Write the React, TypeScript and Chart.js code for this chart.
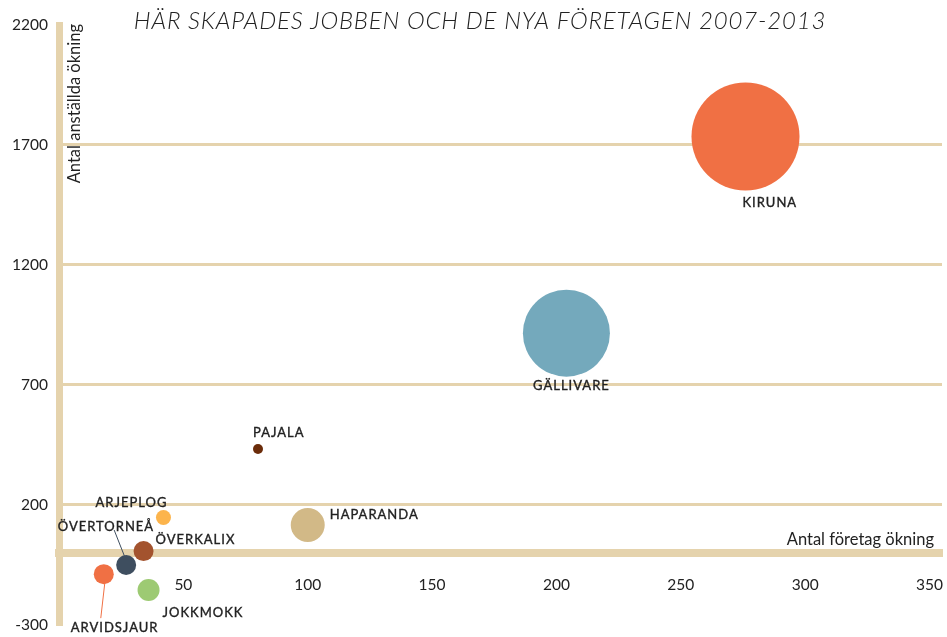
import React, { useEffect, useRef } from "react";
import { Chart, registerables } from "chart.js";

Chart.register(...registerables);

// ---- Data ----
const municipalities = [
  "KIRUNA",
  "GÄLLIVARE",
  "PAJALA",
  "HAPARANDA",
  "ARJEPLOG",
  "ÖVERKALIX",
  "ÖVERTORNEÅ",
  "ARVIDSJAUR",
  "JOKKMOKK",
];
const companyIncrease = [276, 204, 80, 100, 42, 34, 27, 18, 36];
const employeeIncrease = [1735, 915, 432, 115, 146, 6, -52, -90, -156];
const bubbleRadius = [54, 43.5, 5, 17, 7.5, 10, 10, 10, 11];

const xTickValues = [50, 100, 150, 200, 250, 300, 350];
const yTickValues = [-300, 200, 700, 1200, 1700, 2200];
const gridValues = [200, 700, 1200, 1700];

const chartTitle = "HÄR SKAPADES JOBBEN OCH DE NYA FÖRETAGEN 2007-2013";
const yAxisTitle = "Antal anställda ökning";
const xAxisTitle = "Antal företag ökning";

// ---- Styles ----
const bubbleColors = [
  "#f07044",
  "#74a9bc",
  "#6b2c0a",
  "#d2b987",
  "#fcb44c",
  "#a3532e",
  "#3e4e5f",
  "#f07044",
  "#9dca73",
];
const AXIS_COLOR = "#e5d3ad";
const TEXT_COLOR = "#222222";
const FONT = "Lato, 'Open Sans', sans-serif";

// label placement relative to bubble centre (pixels)
const labelPlacement = [
  { dx: -3, dy: 66, align: "left" },
  { dx: 5, dy: 53, align: "center" },
  { dx: -5, dy: -16, align: "left" },
  { dx: 22, dy: -10, align: "left" },
  { dx: 4, dy: -15, align: "right" },
  { dx: 12, dy: -11, align: "left" },
  { dx: 28, dy: -38, align: "right" },
  { dx: -33, dy: 54, align: "left" },
  { dx: 14, dy: 23, align: "left" },
];
const leaderLines: Record<number, number[]> = {
  6: [-12, -35, 1, -2],
  7: [1, 9, -3, 44],
};

const annotationPlugin = {
  id: "annotations",
  afterDatasetsDraw(chart: any) {
    const ctx = chart.ctx;
    const meta = chart.getDatasetMeta(0);
    ctx.save();
    // leader lines
    Object.keys(leaderLines).forEach((k) => {
      const i = Number(k);
      const el = meta.data[i];
      const [x1, y1, x2, y2] = leaderLines[i];
      ctx.beginPath();
      ctx.strokeStyle = bubbleColors[i];
      ctx.lineWidth = 1;
      ctx.moveTo(el.x + x1, el.y + y1);
      ctx.lineTo(el.x + x2, el.y + y2);
      ctx.stroke();
    });
    // labels
    ctx.fillStyle = TEXT_COLOR;
    ctx.strokeStyle = TEXT_COLOR;
    ctx.lineWidth = 0.35;
    ctx.font = `13px ${FONT}`;
    (ctx as any).letterSpacing = "1px";
    ctx.textBaseline = "middle";
    municipalities.forEach((name, i) => {
      const el = meta.data[i];
      const p = labelPlacement[i];
      ctx.textAlign = p.align;
      ctx.fillText(name, el.x + p.dx, el.y + p.dy);
      ctx.strokeText(name, el.x + p.dx, el.y + p.dy);
    });

    // chart title
    ctx.font = `italic 300 24px ${FONT}`;
    (ctx as any).letterSpacing = "0.8px";
    ctx.fillStyle = "#222222";
    ctx.textAlign = "center";
    ctx.fillText(chartTitle, 480, 21);
    (ctx as any).letterSpacing = "0px";

    // x axis title
    ctx.font = `16.5px ${FONT}`;
    ctx.fillStyle = TEXT_COLOR;
    ctx.textAlign = "right";
    ctx.fillText(xAxisTitle, chart.chartArea.right - 8, chart.scales.y.getPixelForValue(0) - 13);

    // y axis title
    ctx.translate(chart.chartArea.left + 16, chart.chartArea.top - 1);
    ctx.rotate(-Math.PI / 2);
    ctx.textAlign = "right";
    ctx.fillText(yAxisTitle, 0, 0);
    ctx.restore();
  },
};

export default function App() {
  const canvasRef = useRef<HTMLCanvasElement | null>(null);

  useEffect(() => {
    document.body.style.margin = "0";
    const canvas = canvasRef.current;
    if (!canvas) return;
    const chart = new Chart(canvas, {
      type: "bubble",
      data: {
        datasets: [
          {
            data: municipalities.map((_, i) => ({
              x: companyIncrease[i],
              y: employeeIncrease[i],
              r: bubbleRadius[i],
            })),
            backgroundColor: bubbleColors,
            borderWidth: 0,
            hoverBorderWidth: 0,
            clip: false,
          },
        ],
      },
      options: {
        responsive: false,
        animation: false,
        layout: { autoPadding: false, padding: { top: 25, bottom: 12.5, left: 0, right: 5 } },
        plugins: {
          legend: { display: false },
          tooltip: { enabled: false },
          title: { display: false },
        },
        scales: {
          x: {
            type: "linear",
            min: 0,
            max: 355,
            position: { y: 0 } as any,
            afterBuildTicks: (scale: any) => {
              scale.ticks = xTickValues.map((v) => ({ value: v }));
            },
            afterFit: (scale: any) => {
              scale.height = 0;
              scale.paddingLeft = 0;
              scale.paddingRight = 0;
              scale.paddingTop = 0;
              scale.paddingBottom = 0;
            },
            grid: { display: false, drawTicks: false },
            border: { display: true, width: 8, color: AXIS_COLOR },
            ticks: {
              padding: 23,
              color: TEXT_COLOR,
              font: { family: FONT, size: 15.5 },
              maxRotation: 0,
              callback: (v: any) => String(v),
            },
          },
          y: {
            type: "linear",
            min: -300,
            max: 2200,
            position: "left",
            afterBuildTicks: (scale: any) => {
              scale.ticks = yTickValues.map((v) => ({ value: v }));
            },
            afterFit: (scale: any) => {
              scale.width = 59;
              scale.paddingTop = 0;
              scale.paddingBottom = 0;
            },
            grid: {
              drawTicks: false,
              lineWidth: 3,
              color: (c: any) =>
                c.tick && gridValues.includes(c.tick.value) ? AXIS_COLOR : "rgba(0,0,0,0)",
            },
            border: { display: true, width: 7, color: AXIS_COLOR },
            ticks: {
              padding: 11,
              color: TEXT_COLOR,
              font: { family: FONT, size: 15.5 },
              callback: (v: any) => String(v),
            },
          },
        },
      },
      plugins: [annotationPlugin],
    } as any);
    return () => chart.destroy();
  }, []);

  return (
    <div style={{ position: "fixed", left: 0, top: 0, width: 947, height: 637 }}>
      <canvas ref={canvasRef} width={947} height={637} />
    </div>
  );
}
